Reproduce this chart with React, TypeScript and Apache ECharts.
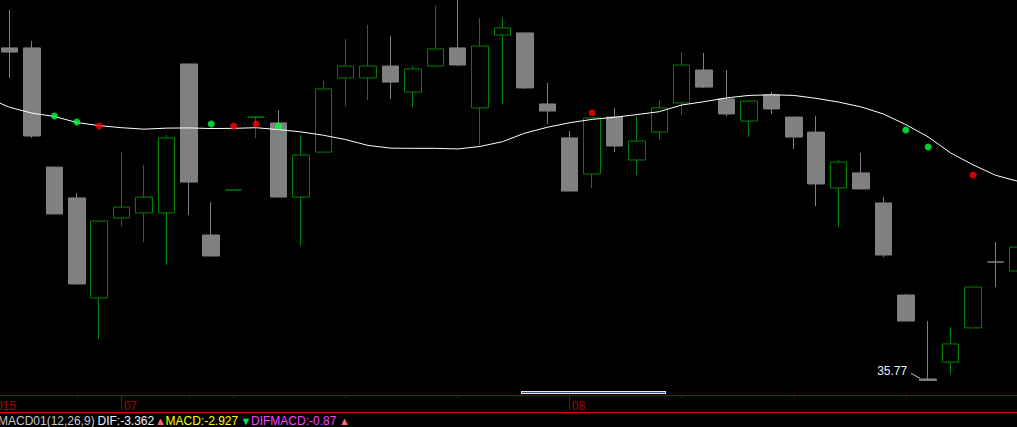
import React, { useEffect, useRef } from 'react';
import * as echarts from 'echarts';

// one leading bar (off-screen on the left) carries the year label and the start of the MA line
const OFFSET = 1;

const monthStarts = [
  { index: -1, label: '2015' },
  { index: 5, label: '07' },
  { index: 25, label: '08' },
];
const tickBars = [3, 8, 10, 15, 20, 30, 35, 40];

// [open, close, low, high]
const candles = [
  [51.73, 51.53, 50.29, 53.55],
  [51.73, 47.5, 47.41, 52.06],
  [46.01, 43.76, 43.76, 46.01],
  [44.53, 40.4, 40.4, 44.77],
  [39.73, 43.42, 37.76, 43.42],
  [43.57, 44.09, 43.18, 46.73],
  [43.81, 44.57, 42.41, 46.11],
  [43.81, 47.41, 41.31, 47.55],
  [50.96, 45.29, 43.71, 50.96],
  [42.75, 41.74, 41.74, 44.33],
  [44.91, 44.91, 44.91, 44.91],
  [48.41, 48.41, 47.41, 48.41],
  [48.13, 44.57, 44.57, 48.75],
  [44.57, 46.59, 42.22, 47.55],
  [46.73, 49.76, 46.73, 50.14],
  [50.29, 50.86, 48.94, 52.16],
  [50.29, 50.86, 49.23, 52.83],
  [50.86, 50.09, 49.28, 52.3],
  [49.61, 50.72, 48.89, 50.86],
  [50.86, 51.68, 50.86, 53.74],
  [51.73, 50.91, 50.86, 54.1],
  [48.85, 51.82, 47.07, 53.17],
  [52.35, 52.69, 49.04, 53.17],
  [52.45, 49.81, 49.76, 52.45],
  [49.04, 48.7, 48.08, 50.05],
  [47.41, 44.86, 44.86, 47.74],
  [45.68, 48.37, 45.01, 48.37],
  [48.41, 47.02, 46.73, 48.85],
  [46.35, 47.26, 45.63, 48.46],
  [47.69, 48.85, 47.31, 49.23],
  [49.09, 50.91, 48.51, 51.53],
  [50.67, 49.85, 49.81, 51.49],
  [49.28, 48.56, 48.46, 50.67],
  [48.22, 49.18, 47.45, 49.23],
  [49.47, 48.8, 48.56, 49.61],
  [48.41, 47.45, 46.88, 48.41],
  [47.69, 45.2, 44.14, 48.46],
  [45.01, 46.25, 43.13, 46.35],
  [45.73, 44.96, 44.96, 46.69],
  [44.29, 41.79, 41.69, 44.57],
  [39.87, 38.62, 38.62, 39.92],
  [35.84, 35.77, 35.77, 38.62],
  [36.65, 37.52, 36.08, 38.33],
  [38.29, 40.25, 38.29, 40.25],
  [41.46, 41.45, 40.25, 42.41],
  [41.02, 42.17, 41.02, 42.17],
];

const maPrev = 49.33;
const ma = [
  48.88, 48.6, 48.44, 48.15, 48.0, 47.9, 47.83, 47.88, 47.89, 47.86,
  47.87, 47.9, 47.81, 47.7, 47.54, 47.33, 47.05, 46.92, 46.91, 46.91,
  46.88, 47.0, 47.23, 47.64, 47.92, 48.14, 48.3, 48.4, 48.53, 48.67,
  48.99, 49.15, 49.33, 49.45, 49.48, 49.45, 49.31, 49.13, 48.9, 48.56,
  48.05, 47.46, 46.69, 46.12, 45.62, 45.33,
];

const upSignals = [
  [2, 48.46], [3, 48.17], [9, 48.08], [12, 47.98], [40, 47.79], [41, 46.97],
];
const downSignals = [
  [4, 47.98], [10, 47.98], [11, 48.08], [26, 48.62], [43, 45.63],
];

const lowMark = { index: 41, value: 35.77, text: '35.77' };

const legendItems = [
  { text: 'MACD01(12,26,9)', color: '#c8c8c8', x: -2 },
  { text: 'DIF:-3.362', color: '#f0f0ff', x: 97.5 },
  { text: '▲', color: '#ff6464', x: 155 },
  { text: 'MACD:-2.927', color: '#ffff00', x: 165.5 },
  { text: '▼', color: '#00e060', x: 240.5 },
  { text: 'DIFMACD:-0.87', color: '#ff40ff', x: 251 },
  { text: '▲', color: '#ff6464', x: 339 },
];

const FONT = '"Liberation Sans", Arial, sans-serif';

// the chart canvas is wider than the window so that the first and last bars are cut by the window edges
const VIEW_W = 1017;
const VIEW_H = 427;
const CHART_LEFT = -24;
const CHART_W = 1053;

export default function App() {
  const ref = useRef<HTMLDivElement>(null);

  useEffect(() => {
    const el = ref.current;
    if (!el) return;
    const chart = echarts.init(el, null, { renderer: 'svg' });

    const count = candles.length + OFFSET;
    const categories = Array.from({ length: count }, (_, i) => 'bar' + (i - OFFSET));
    const monthMap: Record<number, string> = {};
    monthStarts.forEach((m) => (monthMap[m.index + OFFSET] = m.label));
    const tickSet = new Set(tickBars.map((i) => i + OFFSET));

    const candleData = [
      ...Array.from({ length: OFFSET }, () => ['-', '-', '-', '-']),
      ...candles,
    ];
    const maData = [maPrev, ...ma];
    const upData = upSignals.map(([i, v]) => [i + OFFSET, v]);
    const downData = downSignals.map(([i, v]) => [i + OFFSET, v]);

    const dx = -CHART_LEFT; // window x -> chart x

    const legendGraphics = legendItems.map((it) => ({
      type: 'text',
      x: it.x + dx,
      y: 420.5,
      silent: true,
      style: {
        text: it.text,
        fill: it.color,
        font: (it.text.length === 1 ? '11px ' : '12px ') + FONT,
        verticalAlign: 'middle',
        textVerticalAlign: 'middle',
        align: 'left',
        textAlign: 'left',
      },
    }));

    const staticGraphics = [
      {
        type: 'line',
        silent: true,
        shape: { x1: dx, y1: 412.5, x2: VIEW_W + dx, y2: 412.5 },
        style: { stroke: '#e00000', lineWidth: 1 },
      },
      {
        type: 'rect',
        silent: true,
        shape: { x: 521 + dx, y: 391, width: 145, height: 3 },
        style: { fill: '#e8e8e8' },
      },
      {
        type: 'rect',
        silent: true,
        shape: { x: 522 + dx, y: 392, width: 143, height: 1 },
        style: { fill: '#3c4c74' },
      },
      ...legendGraphics,
    ];

    chart.setOption({
      animation: false,
      backgroundColor: '#000000',
      grid: {
        left: 0,
        right: 0,
        top: 0,
        height: 395,
        containLabel: false,
      },
      xAxis: [
        {
          type: 'category',
          data: categories,
          boundaryGap: true,
          position: 'bottom',
          axisLine: { show: true, lineStyle: { color: '#800000', width: 1 } },
          axisTick: {
            show: true,
            alignWithLabel: true,
            interval: (i: number) => tickSet.has(i),
            length: 3,
            lineStyle: { color: '#800000' },
          },
          axisLabel: {
            show: true,
            interval: (i: number) => monthMap[i] !== undefined,
            formatter: (_v: string, i: number) => monthMap[i] ?? '',
            align: 'left',
            color: '#b00000',
            fontSize: 12,
            fontFamily: FONT,
            margin: 5,
            padding: [0, 0, 0, 2],
          },
          splitLine: { show: false },
        },
        {
          type: 'category',
          data: categories,
          boundaryGap: true,
          position: 'bottom',
          axisLine: { show: false },
          axisTick: {
            show: true,
            alignWithLabel: true,
            interval: (i: number) => monthMap[i] !== undefined,
            length: 15,
            lineStyle: { color: '#900000' },
          },
          axisLabel: { show: false },
          splitLine: { show: false },
        },
      ],
      yAxis: {
        type: 'value',
        min: 35.07,
        max: 54.03,
        show: false,
        splitLine: { show: false },
      },
      series: [
        {
          type: 'candlestick',
          data: candleData,
          barWidth: 17,
          itemStyle: {
            color: '#000000',
            color0: '#808080',
            borderColor: '#008000',
            borderColor0: '#808080',
            borderColorDoji: '#008000',
            borderWidth: 1,
          },
          silent: true,
          z: 2,
        },
        {
          type: 'line',
          data: maData,
          symbol: 'none',
          lineStyle: { color: '#ffffff', width: 1 },
          silent: true,
          z: 3,
        },
        {
          type: 'scatter',
          data: upData,
          symbol: 'circle',
          symbolSize: 7,
          itemStyle: { color: '#00ff44' },
          silent: true,
          z: 4,
        },
        {
          type: 'scatter',
          data: downData,
          symbol: 'circle',
          symbolSize: 7,
          itemStyle: { color: '#ff0000' },
          silent: true,
          z: 4,
        },
      ],
      graphic: staticGraphics,
    });

    const p = chart.convertToPixel({ seriesIndex: 0 }, [lowMark.index + OFFSET, lowMark.value]) as number[];
    if (p && isFinite(p[0]) && isFinite(p[1])) {
      chart.setOption({
        graphic: [
          ...staticGraphics,
          {
            type: 'line',
            silent: true,
            shape: { x1: p[0] - 17, y1: p[1] - 7, x2: p[0] - 8, y2: p[1] - 2 },
            style: { stroke: '#d0d0d0', lineWidth: 1 },
          },
          {
            type: 'text',
            silent: true,
            x: p[0] - 21,
            y: p[1] - 9,
            style: {
              text: lowMark.text,
              fill: '#e8ecff',
              font: '12px ' + FONT,
              align: 'right',
              textAlign: 'right',
              verticalAlign: 'middle',
              textVerticalAlign: 'middle',
            },
          },
        ],
      });
    }

    return () => chart.dispose();
  }, []);

  return (
    <div
      style={{
        position: 'fixed',
        left: 0,
        top: 0,
        width: VIEW_W,
        height: VIEW_H,
        overflow: 'hidden',
        background: '#000',
      }}
    >
      <div
        ref={ref}
        style={{ position: 'absolute', left: CHART_LEFT, top: 0, width: CHART_W, height: VIEW_H }}
      />
    </div>
  );
}
